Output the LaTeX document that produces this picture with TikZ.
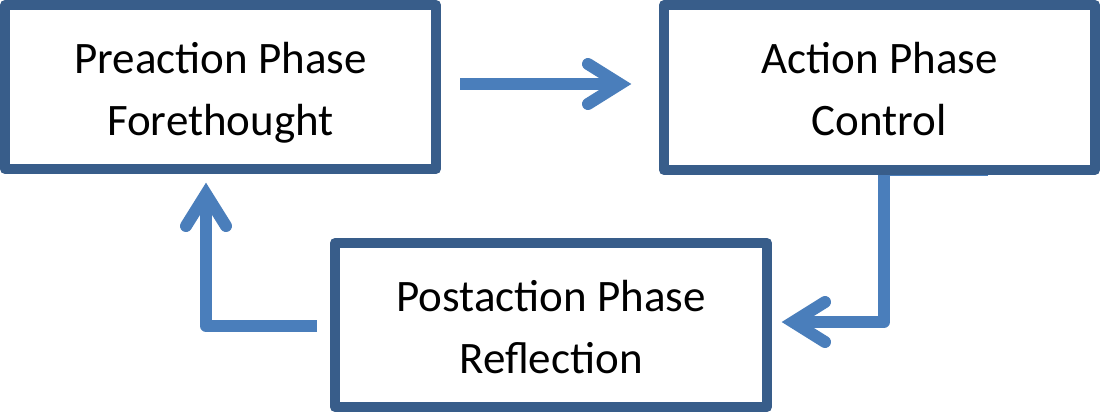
\documentclass[tikz,border=0pt]{standalone}
\usepackage{fontspec}
\setmainfont{Carlito}
\usetikzlibrary{calc}
\definecolor{boxc}{HTML}{385D8A}
\definecolor{arrc}{HTML}{4A7EBB}
\begin{document}
\begin{tikzpicture}[x=1pt,y=-1pt,
  phasebox/.style={draw=boxc, line width=10pt, line join=round, fill=white,
    minimum width=431pt, minimum height=164pt, inner sep=0pt, align=center,
    font=\fontsize{45}{62}\selectfont, text height=102pt, text depth=6pt},
  shaft/.style={draw=arrc, line width=12pt, line join=round},
  barb/.style={draw=arrc, line width=12pt, line cap=round, line join=miter},
]
\useasboundingbox (0,0) rectangle (1100,413);
% connectors (drawn first, boxes on top)
\coordinate (a1s) at (460,84);
\coordinate (a1t) at (620,84);
\coordinate (a2s) at (988,170);
\coordinate (a2c) at (884,170);
\coordinate (a2d) at (884,322);
\coordinate (a2t) at (793,322);
\coordinate (a3s) at (317,326);
\coordinate (a3c) at (206,326);
\coordinate (a3t) at (206,194);
\draw[shaft] (a1s) -- (a1t);
\draw[barb] ($(a1t)+(-32,-20)$) -- (a1t) -- ($(a1t)+(-32,20)$);
\draw[shaft] (a2s) -- (a2c) -- (a2d) -- (a2t);
\draw[barb] ($(a2t)+(32,-20)$) -- (a2t) -- ($(a2t)+(32,20)$);
\draw[shaft] (a3s) -- (a3c) -- (a3t);
\draw[barb] ($(a3t)+(-20,32)$) -- (a3t) -- ($(a3t)+(20,32)$);
% boxes
\node[phasebox] (pre) at (220.5,87) {Preaction Phase\\Forethought};
\node[phasebox, minimum height=165pt] (act) at (879.5,87.5) {Action Phase\\Control};
\node[phasebox, minimum width=432pt] (post) at (551,325) {Postaction Phase\\Reflection};
\end{tikzpicture}
\end{document}
